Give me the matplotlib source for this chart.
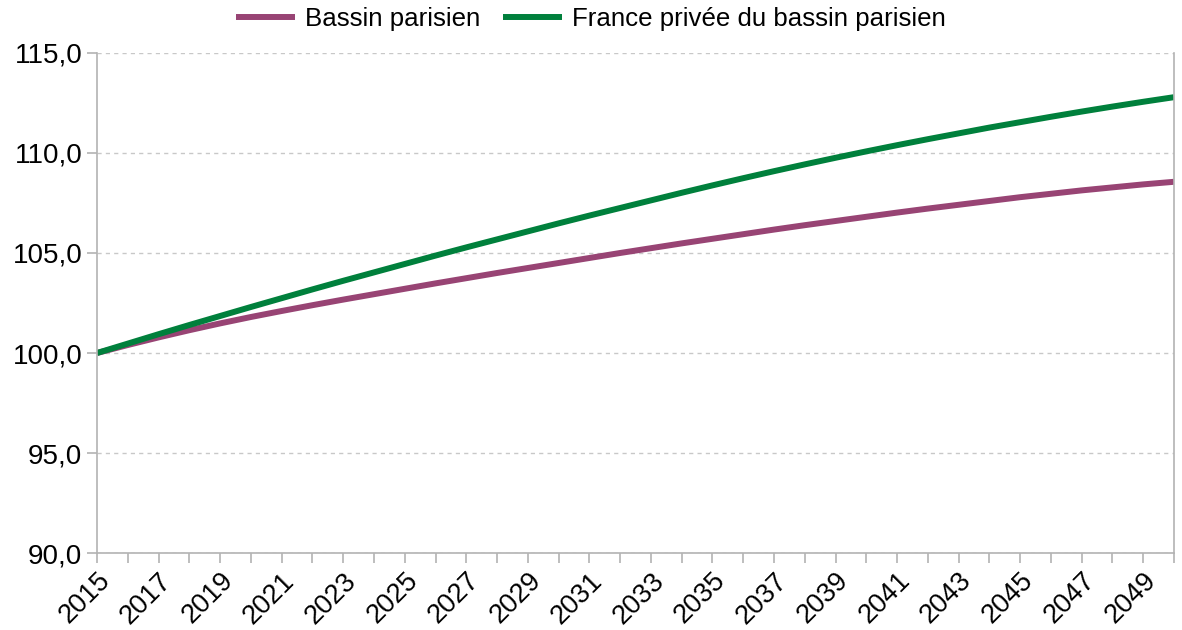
import numpy as np
import matplotlib.pyplot as plt
from matplotlib.ticker import FuncFormatter

plt.rcParams['font.family'] = ['Liberation Sans', 'DejaVu Sans']

years = list(range(2015, 2051))

bassin_parisien = [
    100.00, 100.40, 100.78, 101.14, 101.48, 101.80, 102.10, 102.39, 102.67, 102.94,
    103.21, 103.48, 103.74, 104.00, 104.25, 104.50, 104.75, 105.00, 105.24, 105.48,
    105.71, 105.94, 106.17, 106.39, 106.60, 106.81, 107.02, 107.22, 107.41, 107.60,
    107.79, 107.96, 108.13, 108.28, 108.43, 108.56,
]

france_hors_bp = [
    100.00, 100.47, 100.94, 101.40, 101.85, 102.30, 102.74, 103.18, 103.61, 104.03,
    104.45, 104.87, 105.28, 105.68, 106.08, 106.48, 106.87, 107.25, 107.63, 108.01,
    108.38, 108.74, 109.09, 109.43, 109.76, 110.08, 110.39, 110.69, 110.98, 111.27,
    111.54, 111.81, 112.07, 112.32, 112.56, 112.79,
]

series_labels = ["Bassin parisien", "France privée du bassin parisien"]
colors = ['#984474', '#00803c']

fig = plt.figure(figsize=(11.82, 6.3), dpi=100)
ax = fig.add_axes([0.0821, 0.1222, 0.9111, 0.7937])

ax.plot(years, bassin_parisien, color=colors[0], linewidth=4.3,
        label=series_labels[0], solid_capstyle='butt')
ax.plot(years, france_hors_bp, color=colors[1], linewidth=4.3,
        label=series_labels[1], solid_capstyle='butt')

ax.set_xlim(2015, 2050)
ax.set_ylim(90, 115)

# y axis
ax.set_yticks(np.arange(90, 115.1, 5))
ax.yaxis.set_major_formatter(FuncFormatter(lambda v, p: f"{v:.1f}".replace('.', ',')))
ax.grid(axis='y', color='#c8c8c8', linestyle=(0, (3, 3)), linewidth=1)
ax.set_axisbelow(True)

# x axis: a tick every year, label every other year
ax.set_xticks(years)
ax.set_xticklabels([str(y) if (y - 2015) % 2 == 0 else '' for y in years],
                   rotation=45, ha='right', va='top', rotation_mode='anchor')

ax.tick_params(axis='x', length=7.5, width=1.2, color='#b3b3b3', labelsize=19.5, pad=3)
ax.tick_params(axis='y', length=7.5, width=1.2, color='#b3b3b3', labelsize=20, pad=3)

for side in ['left', 'bottom', 'right']:
    ax.spines[side].set_color('#b3b3b3')
    ax.spines[side].set_linewidth(1.2)
ax.spines['top'].set_visible(False)

fig.legend(loc='upper center', bbox_to_anchor=(0.5, 1.025), ncol=2, frameon=False,
           fontsize=18.6, handlelength=2.25, handletextpad=0.4, columnspacing=0.9)

fig.savefig('out.png', dpi=100)
